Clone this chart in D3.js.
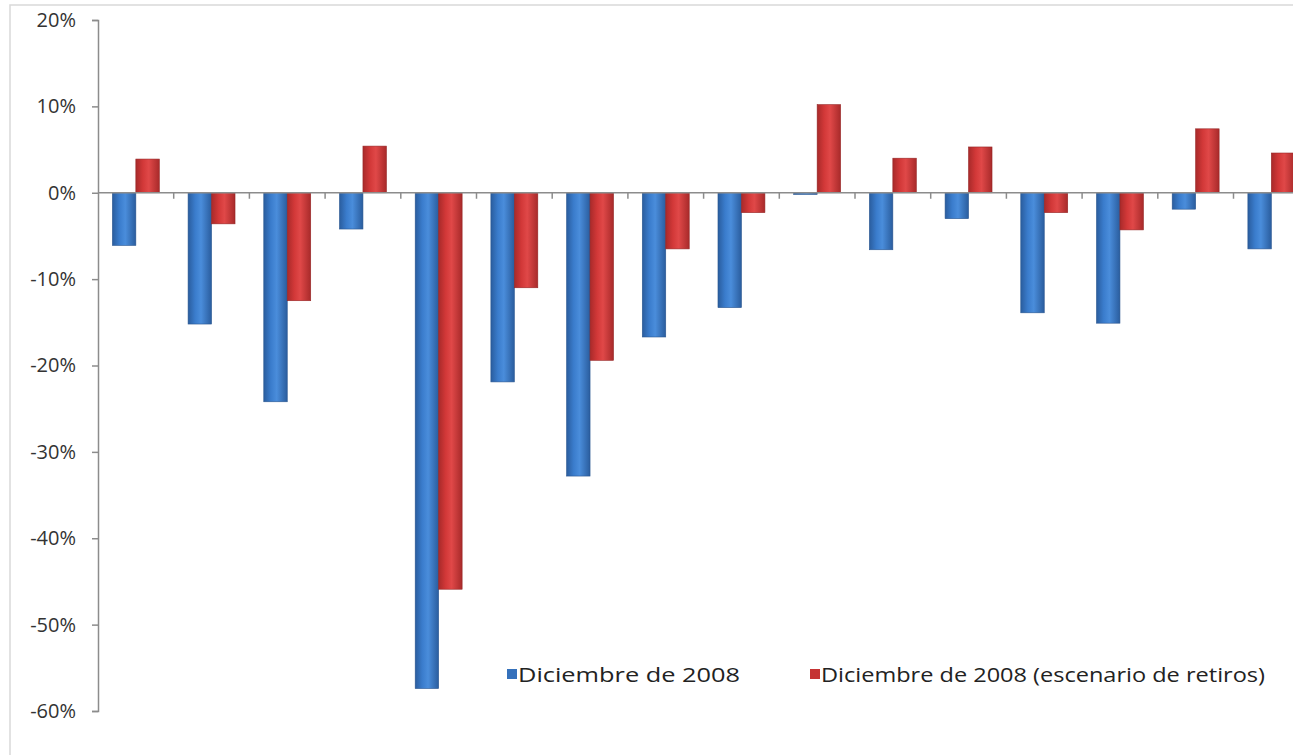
<!DOCTYPE html>
<html>
<head>
<meta charset="utf-8">
<script src="https://cdn.jsdelivr.net/npm/d3@7"></script>
<style>
  body { margin: 0; background: #fff; overflow: hidden; }
  svg { display: block; }
</style>
</head>
<body>
<div id="chart"></div>
<script>
// Chart data (percent values)
const categories = ["1", "2", "3", "4", "5", "6", "7", "8", "9", "10", "11", "12", "13", "14", "15", "16"];
const seriesNames = ["Diciembre de 2008", "Diciembre de 2008 (escenario de retiros)"];
const dic2008 = [-6.1, -15.2, -24.2, -4.2, -57.4, -21.9, -32.8, -16.7, -13.3, -0.2, -6.6, -3.0, -13.9, -15.1, -1.9, -6.5];
const dic2008Retiros = [3.9, -3.6, -12.5, 5.4, -45.9, -11.0, -19.4, -6.5, -2.3, 10.2, 4.0, 5.3, -2.3, -4.3, 7.4, 4.6];
const yTicks = [20, 10, 0, -10, -20, -30, -40, -50, -60];

const width = 1293;
const height = 755;

const svg = d3.select("#chart")
              .append("svg")
              .attr("width", width)
              .attr("height", height);

// Gradients to imitate the rounded Excel bars
const defs = svg.append("defs");
function barGradient(id, dark, mid, light) {
    const g = defs.append("linearGradient").attr("id", id)
                  .attr("x1", "0%").attr("x2", "100%").attr("y1", "0%").attr("y2", "0%");
    g.append("stop").attr("offset", "0%").attr("stop-color", dark);
    g.append("stop").attr("offset", "30%").attr("stop-color", mid);
    g.append("stop").attr("offset", "55%").attr("stop-color", light);
    g.append("stop").attr("offset", "100%").attr("stop-color", dark);
}
barGradient("gBlue", "#2a5d9e", "#3a7ccc", "#4a8ddb");
barGradient("gRed", "#a82a2a", "#d23838", "#e04848");
const colors = ["url(#gBlue)", "url(#gRed)"];
const legendColors = ["#3571bb", "#c53434"];

// Chart frame
svg.append("path")
   .attr("d", `M10,${height} V5 H${width}`)
   .attr("fill", "none")
   .attr("stroke", "#d9d9d9")
   .attr("stroke-width", 1.5);

// Scales
const x = d3.scaleBand()
            .domain(categories)
            .range([98, 98 + 75.7 * categories.length])
            .paddingInner(0.38)
            .paddingOuter(0.19);

const xSub = d3.scaleBand()
               .domain([0, 1])
               .range([0, x.bandwidth()]);

const y = d3.scaleLinear()
            .domain([-60, 20])
            .range([711, 20]);

// Y axis
const yAxis = svg.append("g")
                 .attr("transform", "translate(98,0)")
                 .call(d3.axisLeft(y).tickValues(yTicks).tickSize(6).tickPadding(16)
                         .tickFormat(d => d + "%"));
yAxis.select(".domain").attr("stroke", "#8c8c8c").attr("stroke-width", 1.5);
yAxis.selectAll(".tick line").attr("stroke", "#8c8c8c").attr("stroke-width", 1.5);
yAxis.selectAll(".tick text")
     .attr("font-family", "'Open Sans', 'DejaVu Sans', sans-serif")
     .attr("font-size", 20)
     .attr("fill", "#333");

// Bars
const groups = svg.append("g")
                  .selectAll("g")
                  .data(categories)
                  .join("g")
                  .attr("transform", d => `translate(${x(d)},0)`);

const seriesData = [dic2008, dic2008Retiros];
groups.selectAll("rect")
      .data((d, i) => seriesData.map((s, k) => ({ k: k, v: s[i] })))
      .join("rect")
      .attr("x", d => xSub(d.k))
      .attr("width", xSub.bandwidth())
      .attr("y", d => y(Math.max(0, d.v)))
      .attr("height", d => Math.max(1, Math.abs(y(d.v) - y(0))))
      .attr("fill", d => colors[d.k])
      .attr("stroke", d => d.k === 0 ? "#2a5690" : "#962525")
      .attr("stroke-width", 0.6);

// Category axis at zero
const xAxis = svg.append("g")
                 .attr("transform", `translate(0,${y(0)})`);
xAxis.append("line")
     .attr("x1", 98).attr("x2", width)
     .attr("stroke", "#8c8c8c").attr("stroke-width", 1.5);
const step = x.step();
xAxis.selectAll(".ctick")
     .data(categories)
     .join("line")
     .attr("class", "ctick")
     .attr("x1", d => x(d) - x.paddingOuter() * step + step)
     .attr("x2", d => x(d) - x.paddingOuter() * step + step)
     .attr("y1", 0).attr("y2", 6)
     .attr("stroke", "#8c8c8c").attr("stroke-width", 1.5);

// Legend
const legendX = [507, 810];
const legendLen = [222, 444];
const legend = svg.append("g")
                  .selectAll("g")
                  .data(seriesNames)
                  .join("g")
                  .attr("transform", (d, i) => `translate(${legendX[i]},675)`);
legend.append("rect")
      .attr("x", 0).attr("y", -6)
      .attr("width", 10).attr("height", 10)
      .attr("fill", (d, i) => legendColors[i]);
legend.append("text")
      .attr("x", 11)
      .attr("y", 7)
      .attr("font-family", "'Open Sans', 'DejaVu Sans', sans-serif")
      .attr("font-size", 20)
      .attr("fill", "#222")
      .attr("textLength", (d, i) => legendLen[i])
      .attr("lengthAdjust", "spacingAndGlyphs")
      .text(d => d);
</script>
</body>
</html>
